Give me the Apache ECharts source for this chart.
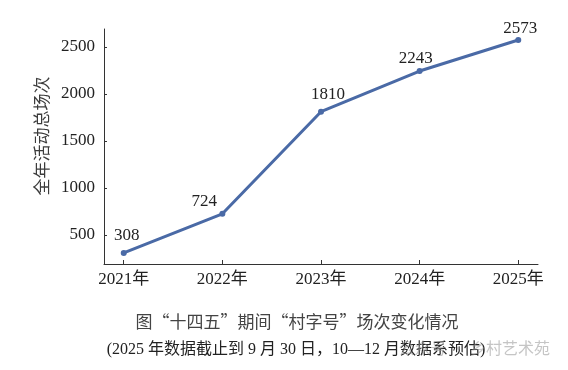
<!DOCTYPE html>
<html><head><meta charset="utf-8">
<script src="https://cdn.jsdelivr.net/npm/echarts@6/dist/echarts.min.js"></script>
<style>html,body{margin:0;padding:0;background:#fff}#c{width:568px;height:370px}</style>
</head><body><div id="c"></div>
<script>
const years = [2021, 2022, 2023, 2024, 2025];
const values = [308, 724, 1810, 2243, 2573];
const yTicks = [500, 1000, 1500, 2000, 2500];
const yAxisName = '全年活动总场次';
const titleText = '图“十四五”期间“村字号”场次变化情况';
const noteText = '(2025 年数据截止到 9 月 30 日，10—12 月数据系预估)';
const watermark = '公众号 · 乡村艺术苑';
// label placement tweaks (layout only)
const labelOffsets = [[3, 0], [-18, 5], [7, 0], [-4, 5], [2, 6]];

const serif = '"Liberation Serif", "Noto Sans CJK SC", serif';
const sans = '"Noto Sans CJK SC", sans-serif';
const chart = echarts.init(document.getElementById('c'), null, {renderer: 'canvas'});
chart.setOption({
  animation: false,
  backgroundColor: '#fff',
  grid: {left: 104, right: 30, top: 29, bottom: 106, containLabel: false},
  xAxis: {
    type: 'value', min: 2020.8, max: 2025.2,
    splitLine: {show: false},
    axisLine: {show: true, lineStyle: {color: '#333', width: 1}},
    axisTick: {show: true, inside: true, length: 4, customValues: years, lineStyle: {color: '#333'}},
    axisLabel: {customValues: years, formatter: v => v + '年', margin: 7, color: '#222', fontSize: 17, fontFamily: serif}
  },
  yAxis: {
    type: 'value', min: 190, max: 2690,
    splitLine: {show: false},
    axisLine: {show: true, lineStyle: {color: '#333', width: 1}},
    axisTick: {show: true, inside: true, length: 3, customValues: yTicks, lineStyle: {color: '#333'}},
    axisLabel: {customValues: yTicks, formatter: v => String(v), margin: 9, color: '#222', fontSize: 17, fontFamily: serif}
  },
  series: [{
    type: 'line',
    data: years.map((y, i) => ({
      value: [y, values[i]],
      label: {offset: labelOffsets[i]}
    })),
    lineStyle: {color: '#4a6aa6', width: 3},
    itemStyle: {color: '#4a6aa6'},
    symbol: 'circle', symbolSize: 6, showAllSymbol: true,
    label: {show: true, position: 'top', distance: 6, color: '#222', fontSize: 17, fontFamily: serif, formatter: p => p.value[1]}
  }],
  graphic: [
    {type: 'text', x: 42, y: 136, rotation: Math.PI / 2,
     style: {text: yAxisName, fill: '#3c3c3c', font: '17px ' + sans, textAlign: 'center', textVerticalAlign: 'middle'}},
    {type: 'text', x: 297, y: 322,
     style: {text: titleText, fill: '#444', font: '17px ' + sans, textAlign: 'center', textVerticalAlign: 'middle'}},
    {type: 'text', x: 296, y: 350,
     style: {text: noteText, fill: '#222', font: '16px ' + serif, textAlign: 'center', textVerticalAlign: 'middle'}},
    {type: 'text', x: 550, y: 348, z: 100,
     style: {text: watermark, fill: 'rgba(150,150,150,0.55)', font: '16px ' + sans, textAlign: 'right', textVerticalAlign: 'middle'}}
  ]
});
</script></body></html>
